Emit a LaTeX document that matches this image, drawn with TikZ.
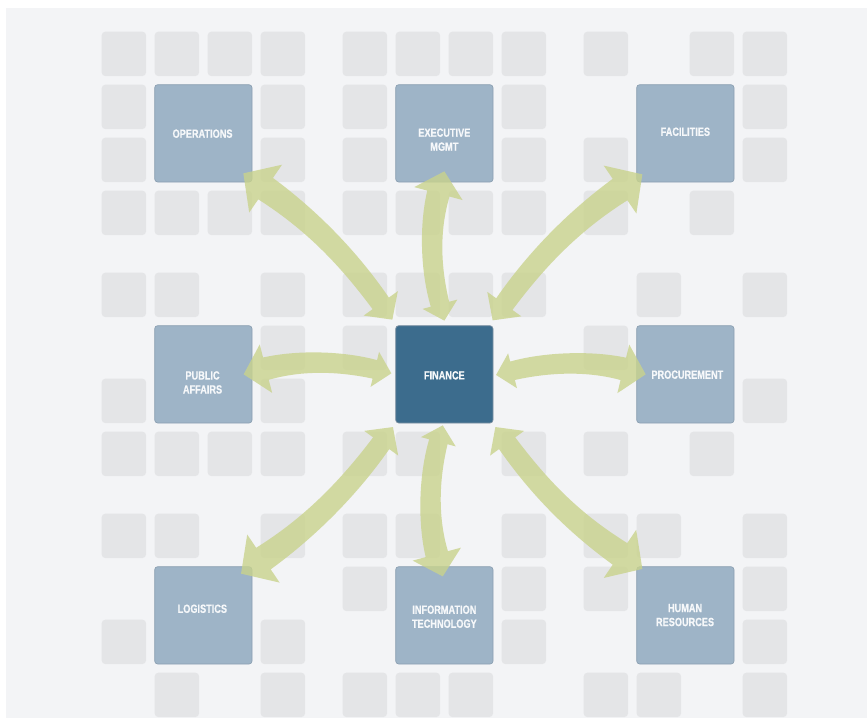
\documentclass[tikz,border=0pt]{standalone}
\usepackage{fontspec}
\newfontfamily\labelfont{Liberation Sans Bold}[FakeStretch=0.77, FakeBold=0.6]
\usetikzlibrary{calc}
\definecolor{bgcol}{RGB}{243,244,246}
\definecolor{sqcol}{RGB}{228,229,231}
\definecolor{deptblue}{RGB}{158,180,199}
\definecolor{deptedge}{RGB}{140,160,178}
\definecolor{finblue}{RGB}{60,108,141}
\definecolor{finedge}{RGB}{125,145,162}
\definecolor{arrowcol}{RGB}{201,211,140}
\definecolor{labelcol}{RGB}{246,248,250}
\tikzset{
  deptbox/.style={rectangle, rounded corners=3pt, fill=deptblue, draw=deptedge, line width=0.7pt,
    minimum width=97.3pt, minimum height=97.3pt, inner sep=0pt},
  finbox/.style={deptbox, fill=finblue, draw=finedge},
  lbl/.style={text=labelcol, align=center, inner sep=0pt,
    font=\labelfont\fontsize{11.9pt}{14pt}\selectfont},
  smallsq/.style={fill=sqcol, rounded corners=3.5pt},
  arrowfill/.style={fill=arrowcol, fill opacity=0.8}
}
\newcommand{\sqgroup}[3]{%
  \foreach \c/\r in {#3} {
    \fill[smallsq] ({101.7+241*#1+53*\c},{31.7+241*#2+53*\r}) rectangle ++(44.3,44.3);
  }%
}
% #1 tip A (department end), #2 tip B (finance end), #3 bend angle, #4 control distance
\newcommand{\fatarrow}[4]{%
  \pgfmathsetmacro\negth{-1*(#3)}%
  \coordinate (HA) at ($(#1)!\Lo pt!#3:(#2)$);
  \coordinate (HB) at ($(#2)!\Li pt!\negth:(#1)$);
  \coordinate (BA1) at ($(HA)!\Wo pt!90:(#1)$);
  \coordinate (BA2) at ($(HA)!\Wo pt!-90:(#1)$);
  \coordinate (SA1) at ($(HA)!\wo pt!90:(#1)$);
  \coordinate (SA2) at ($(HA)!\wo pt!-90:(#1)$);
  \coordinate (TA) at ($(HA)!#4pt!180:(#1)$);
  \coordinate (CA1) at ($(TA)!\wm pt!90:(HA)$);
  \coordinate (CA2) at ($(TA)!\wm pt!-90:(HA)$);
  \coordinate (BB1) at ($(HB)!\Wi pt!-90:(#2)$);
  \coordinate (BB2) at ($(HB)!\Wi pt!90:(#2)$);
  \coordinate (SB1) at ($(HB)!\wi pt!-90:(#2)$);
  \coordinate (SB2) at ($(HB)!\wi pt!90:(#2)$);
  \coordinate (TB) at ($(HB)!#4pt!180:(#2)$);
  \coordinate (CB1) at ($(TB)!\wm pt!-90:(HB)$);
  \coordinate (CB2) at ($(TB)!\wm pt!90:(HB)$);
  \fill[arrowfill] (#1) -- (BA1) -- (SA1) .. controls (CA1) and (CB1) .. (SB1) -- (BB1) -- (#2)
    -- (BB2) -- (SB2) .. controls (CB2) and (CA2) .. (SA2) -- (BA2) -- cycle;
}
\begin{document}
\begin{tikzpicture}[x=1pt,y=-1pt]
\useasboundingbox (0,0) rectangle (867,723);
\fill[white] (0,0) rectangle (867,723);
\fill[bgcol] (6,8) rectangle (867,718);
% background tiles
\sqgroup{0}{0}{0/0,1/0,2/0,3/0,0/1,3/1,0/2,3/2,0/3,1/3,2/3,3/3}
\sqgroup{1}{0}{0/0,1/0,2/0,3/0,0/1,3/1,0/2,3/2,0/3,1/3,2/3,3/3}
\sqgroup{2}{0}{0/0,2/0,3/0,3/1,0/2,3/2,0/3,2/3}
\sqgroup{0}{1}{0/0,1/0,3/0,3/1,0/2,3/2,0/3,1/3,2/3,3/3}
\sqgroup{1}{1}{0/0,1/0,2/0,3/0,0/1,0/3,1/3,3/3}
\sqgroup{2}{1}{1/0,3/0,0/1,3/2,0/3,2/3}
\sqgroup{0}{2}{0/0,1/0,3/0,0/2,3/2,1/3,3/3}
\sqgroup{1}{2}{0/0,1/0,3/0,0/1,3/1,3/2,0/3,1/3,2/3}
\sqgroup{2}{2}{0/0,1/0,3/0,0/1,3/1,3/2,0/3,1/3,3/3}
% boxes
\node[deptbox] (ops)  at (203.35,133.35) {};
\node[deptbox] (exec) at (444.35,133.35) {};
\node[deptbox] (fac)  at (685.35,133.35) {};
\node[deptbox] (pub)  at (203.35,374.35) {};
\node[finbox]  (fin)  at (444.35,374.35) {};
\node[deptbox] (proc) at (685.35,374.35) {};
\node[deptbox] (log)  at (203.35,615.35) {};
\node[deptbox] (it)   at (444.35,615.35) {};
\node[deptbox] (hr)   at (685.35,615.35) {};
% arrow end points
\coordinate (opsA)  at ($(ops.south east)+(-9,-9)$);
\coordinate (finA1) at ($(fin.north west)+(-3,-5.7)$);
\coordinate (execA) at ($(exec.south)+(0,-11)$);
\coordinate (finA2) at ($(fin.north)+(0,-4.7)$);
\coordinate (facA)  at ($(fac.south west)+(6,-8)$);
\coordinate (finA3) at ($(fin.north east)+(-0.7,-5)$);
\coordinate (pubA)  at ($(pub.east)+(-8.7,0)$);
\coordinate (finA4) at ($(fin.west)+(-4,-1)$);
\coordinate (procA) at ($(proc.west)+(9.3,0)$);
\coordinate (finA5) at ($(fin.east)+(2.7,0.6)$);
\coordinate (logA)  at ($(log.north east)+(-11.3,7.3)$);
\coordinate (finA6) at ($(fin.south west)+(-2.4,3.7)$);
\coordinate (itA)   at ($(it.north)+(-1.6,10)$);
\coordinate (finA7) at ($(fin.south)+(-1.6,2)$);
\coordinate (hrA)   at ($(hr.north west)+(6,2.6)$);
\coordinate (finA8) at ($(fin.south east)+(2,3.7)$);
% diagonal arrows
\def\Lo{27}\def\Wo{29}\def\wo{13}\def\Li{20}\def\Wi{21}\def\wi{10}\def\wm{11}
\fatarrow{opsA}{finA1}{10}{56}
\fatarrow{facA}{finA3}{-10}{56}
\fatarrow{logA}{finA6}{-10}{56}
\fatarrow{hrA}{finA8}{10}{56}
% straight arrows
\def\Lo{23}\def\Wo{25}\def\wo{11.5}\def\Li{17}\def\Wi{18}\def\wi{9.5}\def\wm{10.5}
\fatarrow{execA}{finA2}{-15}{36}
\fatarrow{pubA}{finA4}{14}{35}
\fatarrow{procA}{finA5}{-14}{35}
\fatarrow{itA}{finA7}{15}{36}
% labels
\node[lbl] (opsL)  at ($(ops.center)+(-0.8,0.3)$) {OPERATIONS};
\node[lbl] (execL) at ($(exec.center)+(0,6.3)$) {EXECUTIVE\\MGMT};
\node[lbl] (facL)  at ($(fac.center)+(0,-1.6)$) {FACILITIES};
\node[lbl] (pubL)  at ($(pub.center)+(-0.8,8.1)$) {PUBLIC\\AFFAIRS};
\node[lbl] (finL)  at ($(fin.center)+(0,1)$) {FINANCE};
\node[lbl] (procL) at ($(proc.center)+(2,0.3)$) {PROCUREMENT};
\node[lbl] (logL)  at ($(log.center)+(-1,-6.6)$) {LOGISTICS};
\node[lbl] (itL)   at ($(it.center)+(0,1.3)$) {INFORMATION\\TECHNOLOGY};
\node[lbl] (hrL)   at ($(hr.center)+(-0.3,-0.3)$) {HUMAN\\RESOURCES};
\end{tikzpicture}
\end{document}
